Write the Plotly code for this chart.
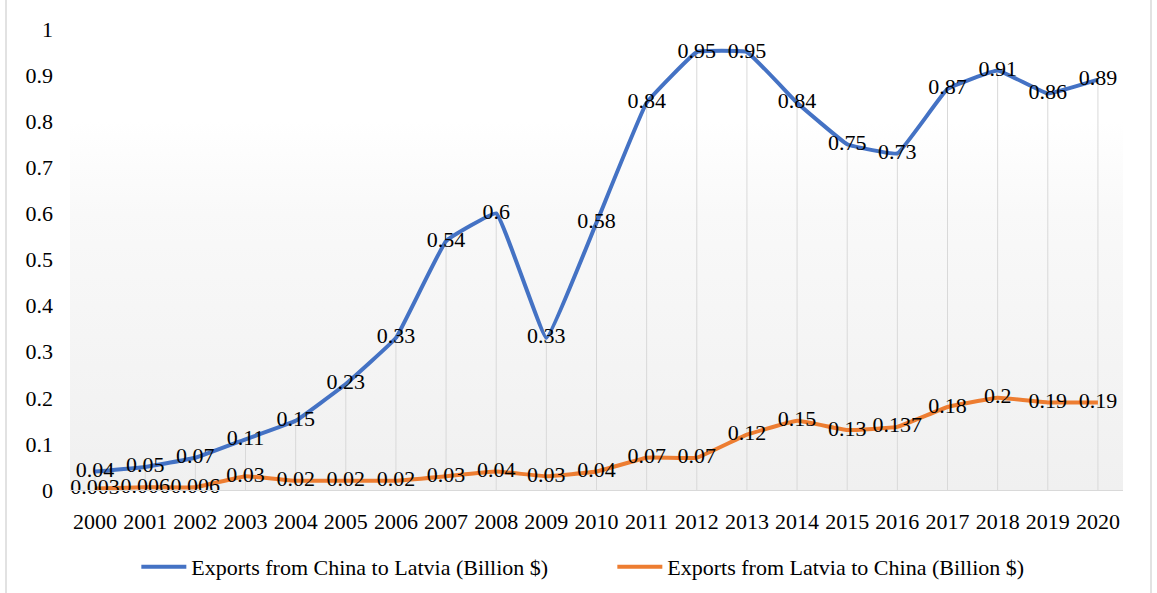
import plotly.graph_objects as go

years = [str(y) for y in range(2000, 2021)]
china_to_latvia = [0.04, 0.05, 0.07, 0.11, 0.15, 0.23, 0.33, 0.54, 0.6, 0.33, 0.58,
                   0.84, 0.95, 0.95, 0.84, 0.75, 0.73, 0.87, 0.91, 0.86, 0.89]
latvia_to_china = [0.003, 0.006, 0.006, 0.03, 0.02, 0.02, 0.02, 0.03, 0.04, 0.03, 0.04,
                   0.07, 0.07, 0.12, 0.15, 0.13, 0.137, 0.18, 0.2, 0.19, 0.19]
y_ticks = [0, 0.1, 0.2, 0.3, 0.4, 0.5, 0.6, 0.7, 0.8, 0.9, 1]
y_tick_text = ["0", "0.1", "0.2", "0.3", "0.4", "0.5", "0.6", "0.7", "0.8", "0.9", "1"]

name_blue = "Exports from China to Latvia (Billion $)"
name_orange = "Exports from Latvia to China (Billion $)"

FONT = "Liberation Serif, Times New Roman, serif"
BLUE = "#4472C4"
ORANGE = "#ED7D31"

xi = list(range(len(years)))

fig = go.Figure()

# plot-area background: soft vertical gradient, light grey at the bottom to white at the top
fig.add_trace(go.Scatter(
    x=[-0.5, 20.5, 20.5, -0.5, -0.5], y=[0, 0, 1, 1, 0],
    mode="lines", line=dict(width=0), fill="toself",
    fillgradient=dict(type="vertical",
                      colorscale=[[0, "#f0f0f0"], [0.6, "#f9f9f9"], [0.8, "#ffffff"], [1, "#ffffff"]]),
    hoverinfo="skip", showlegend=False,
))

# drop lines from the upper series down to the category axis
tops = [max(a, b) for a, b in zip(china_to_latvia, latvia_to_china)]
fig.add_trace(go.Scatter(
    x=xi, y=tops, mode="markers", marker=dict(size=0.1, color="rgba(0,0,0,0)"),
    error_y=dict(type="data", symmetric=False, array=[0] * len(tops), arrayminus=tops,
                 color="#d9d9d9", thickness=1, width=0),
    hoverinfo="skip", showlegend=False,
))

fig.add_trace(go.Scatter(
    x=xi, y=china_to_latvia, name=name_blue,
    mode="lines+text", line=dict(color=BLUE, width=4, shape="spline", smoothing=0.25),
    text=[str(v) for v in china_to_latvia], textposition="middle center",
    textfont=dict(family=FONT, size=22, color="#000000"), cliponaxis=False,
))
fig.add_trace(go.Scatter(
    x=xi, y=latvia_to_china, name=name_orange,
    mode="lines+text", line=dict(color=ORANGE, width=4, shape="spline", smoothing=0.25),
    text=[str(v) for v in latvia_to_china], textposition="middle center",
    textfont=dict(family=FONT, size=22, color="#000000"), cliponaxis=False,
))

W, H = 1157, 593
ml, mr, mt, mb = 70, 34, 29, 103
plot_w = W - ml - mr

# thin light frame at the left and right edges of the chart
for px in (6, 1151):
    fig.add_shape(type="line", xref="paper", yref="paper",
                  x0=(px - ml) / plot_w, x1=(px - ml) / plot_w, y0=-0.3, y1=1.1,
                  line=dict(color="#d9d9d9", width=1.5), layer="below")

fig.update_layout(
    width=W, height=H,
    margin=dict(l=ml, r=mr, t=mt, b=mb, autoexpand=False),
    paper_bgcolor="#ffffff", plot_bgcolor="rgba(0,0,0,0)",
    font=dict(family=FONT, size=22, color="#000000"),
    showlegend=True,
    legend=dict(orientation="h", x=0.063, xanchor="left", y=-0.167, yanchor="middle",
                font=dict(family=FONT, size=22, color="#000000"),
                itemwidth=45, entrywidth=416, entrywidthmode="pixels", bgcolor="rgba(0,0,0,0)"),
    xaxis=dict(range=[-0.5, 20.5], tickmode="array", tickvals=xi, ticktext=years,
               showgrid=False, zeroline=False, showline=True, linecolor="#d9d9d9", linewidth=1,
               ticks="", ticklabelstandoff=12, tickfont=dict(family=FONT, size=22, color="#000000")),
    yaxis=dict(range=[0, 1], tickmode="array", tickvals=y_ticks, ticktext=y_tick_text,
               showgrid=False, zeroline=False, showline=False, ticks="",
               ticklabelstandoff=16, tickfont=dict(family=FONT, size=22, color="#000000")),
)

fig.write_html("out.html")
